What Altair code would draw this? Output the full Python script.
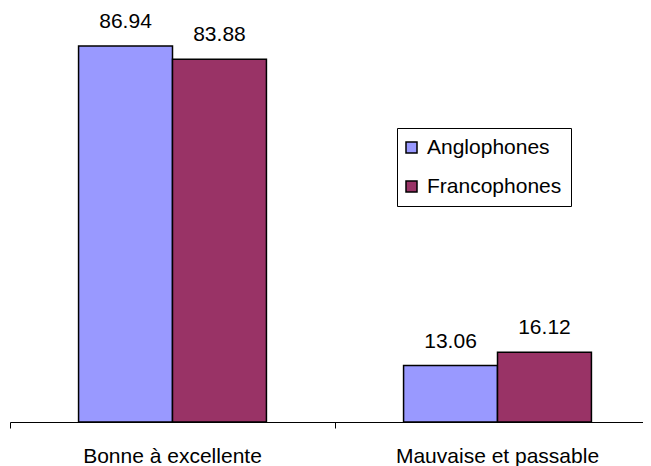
import altair as alt
import pandas as pd

categories = ["Bonne à excellente", "Mauvaise et passable"]
groups = ["Anglophones", "Francophones"]
anglophones = [86.94, 13.06]
francophones = [83.88, 16.12]
colors = ["#9999FF", "#993366"]

rows = []
for i, c in enumerate(categories):
    rows.append({"cat": c, "grp": groups[0], "val": anglophones[i]})
    rows.append({"cat": c, "grp": groups[1], "val": francophones[i]})
df = pd.DataFrame(rows)

FONT = "Liberation Sans"

x = alt.X(
    "cat:N", sort=categories, title=None,
    scale=alt.Scale(range=[0, 650], paddingInner=0, paddingOuter=0),
    axis=alt.Axis(bandPosition=0, labelAngle=0, labelFontSize=21, labelLimit=400,
                  labelFont=FONT, labelColor="black", tickSize=6, tickColor="black",
                  domainColor="black", labelPadding=17, grid=False),
)
xo = alt.XOffset("grp:N", sort=groups, scale=alt.Scale(paddingInner=0, paddingOuter=0.73))
y = alt.Y("val:Q", scale=alt.Scale(domain=[0, 95.7]), axis=None)

bars = alt.Chart(df).mark_bar(stroke="black", strokeWidth=1.5).encode(
    x=x, xOffset=xo, y=y,
    color=alt.Color(
        "grp:N", sort=groups,
        scale=alt.Scale(domain=groups, range=colors),
        legend=alt.Legend(title=None, orient="none", legendX=387, legendY=120,
                          strokeColor="black", fillColor="white", padding=9,
                          rowPadding=17, symbolType="square", symbolSize=121,
                          symbolStrokeColor="black", symbolStrokeWidth=1.5,
                          symbolOffset=-5,
                          labelFontSize=21, labelFont=FONT, labelColor="black",
                          labelOffset=5, symbolOpacity=1),
    ),
)
text = alt.Chart(df).mark_text(dy=-18, baseline="alphabetic", fontSize=21, font=FONT, color="black").encode(
    x=x, xOffset=xo, y=y, text=alt.Text("val:Q", format=".2f")
)

chart = alt.layer(bars, text).properties(
    width=633, height=414,
    autosize=alt.AutoSizeParams(type="none"),
    padding={"left": 2, "top": 0, "right": 0, "bottom": 44},
).configure_view(stroke=None)

chart.save("out.html", embed_options={"renderer": "svg", "actions": False})
